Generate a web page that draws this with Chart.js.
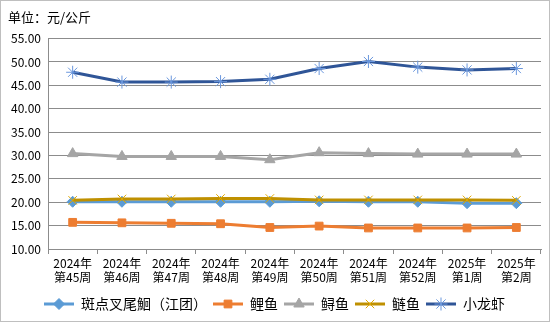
<!DOCTYPE html>
<html>
<head>
<meta charset="utf-8">
<script src="https://cdn.jsdelivr.net/npm/chart.js@4/dist/chart.umd.min.js"></script>
<style>
    html, body { margin: 0; padding: 0; background: #fff; }
    #wrap { width: 550px; height: 322px; box-sizing: border-box; border: 1px solid #bfbfbf; }
    canvas { display: block; }
</style>
</head>
<body>
<div id="wrap"><canvas id="priceChart" width="548" height="320"></canvas></div>
<script>
'use strict';

const weeks = [
    ['2024年', '第45周'], ['2024年', '第46周'], ['2024年', '第47周'], ['2024年', '第48周'],
    ['2024年', '第49周'], ['2024年', '第50周'], ['2024年', '第51周'], ['2024年', '第52周'],
    ['2025年', '第1周'], ['2025年', '第2周']
];

const catfish = [20.1, 20.1, 20.1, 20.1, 20.1, 20.2, 20.1, 20.1, 19.8, 19.8];
const carp = [15.7, 15.6, 15.5, 15.4, 14.6, 14.9, 14.5, 14.5, 14.5, 14.6];
const sturgeon = [30.4, 29.8, 29.8, 29.8, 29.1, 30.6, 30.4, 30.3, 30.3, 30.3];
const silverCarp = [20.4, 20.7, 20.7, 20.8, 20.8, 20.5, 20.5, 20.5, 20.5, 20.4];
const crayfish = [47.8, 45.7, 45.7, 45.8, 46.3, 48.6, 50.1, 48.9, 48.3, 48.6];

const yTicks = { min: 10, max: 55, step: 5 };

const series = [
    { label: '斑点叉尾鮰（江团）', data: catfish, line: '#5b9bd5', marker: '#5b9bd5', style: 'rectRot', radius: 5.5 },
    { label: '鲤鱼', data: carp, line: '#ed7d31', marker: '#ed7d31', style: 'rect', radius: 5.5 },
    { label: '鲟鱼', data: sturgeon, line: '#a5a5a5', marker: '#a5a5a5', style: 'triangle', radius: 6 },
    { label: '鲢鱼', data: silverCarp, line: '#bf9000', marker: '#e0a800', style: 'crossRot', radius: 6 },
    { label: '小龙虾', data: crayfish, line: '#2f5597', marker: '#6a97dd', style: 'star', radius: 6.5 }
];

// small line + marker swatch for each legend entry
function legendSwatch(s) {
    const c = document.createElement('canvas');
    c.width = 30;
    c.height = 14;
    const ctx = c.getContext('2d');
    ctx.strokeStyle = s.line;
    ctx.lineWidth = 3;
    ctx.beginPath();
    ctx.moveTo(0, 7);
    ctx.lineTo(30, 7);
    ctx.stroke();
    ctx.fillStyle = s.marker;
    ctx.strokeStyle = s.marker;
    ctx.lineWidth = 1;
    Chart.helpers.drawPoint(ctx, { pointStyle: s.style, radius: s.radius, borderWidth: 1, rotation: 0 }, 15, 7);
    return c;
}

const datasets = series.map((s, i) => ({
    label: s.label,
    data: s.data,
    borderColor: s.line,
    backgroundColor: s.marker,
    borderWidth: 3,
    pointStyle: s.style,
    pointRadius: s.radius,
    pointHoverRadius: s.radius,
    pointBackgroundColor: s.marker,
    pointBorderColor: s.marker,
    pointBorderWidth: 1,
    tension: 0,
    // later series sit on top
    order: series.length - i,
    swatch: legendSwatch(s)
}));

const font = '"Noto Sans CJK SC", "DejaVu Sans", sans-serif';

new Chart(document.getElementById('priceChart'), {
    type: 'line',
    data: { labels: weeks, datasets: datasets },
    options: {
        responsive: false,
        animation: false,
        layout: { padding: { left: 7, right: 8, top: 0, bottom: 0 } },
        plugins: {
            title: {
                display: true,
                text: '单位：元/公斤',
                align: 'start',
                color: '#000',
                font: { family: font, size: 13, weight: 'normal' },
                padding: { top: 8, bottom: 14 }
            },
            legend: {
                position: 'bottom',
                labels: {
                    usePointStyle: true,
                    pointStyleWidth: 30,
                    boxHeight: 14,
                    padding: 6,
                    color: '#000',
                    font: { family: font, size: 14 },
                    sort: (a, b) => a.datasetIndex - b.datasetIndex,
                    generateLabels: chart => chart.data.datasets.map((ds, i) => ({
                        text: ds.label,
                        pointStyle: ds.swatch,
                        fillStyle: ds.borderColor,
                        strokeStyle: ds.borderColor,
                        lineWidth: 0,
                        fontColor: '#000',
                        hidden: false,
                        datasetIndex: i
                    }))
                }
            },
            tooltip: { enabled: false }
        },
        scales: {
            x: {
                offset: true,
                afterFit: scale => { scale.height = 42; },
                border: { color: '#8c8c8c', width: 1 },
                grid: { offset: true, drawOnChartArea: false, drawTicks: true, tickLength: 5, color: '#8c8c8c' },
                ticks: {
                    color: '#000',
                    padding: 2,
                    maxRotation: 0,
                    autoSkip: false,
                    font: { family: font, size: 12, lineHeight: 1.2 }
                }
            },
            y: {
                min: yTicks.min,
                max: yTicks.max,
                afterFit: scale => { scale.width = 40; },
                border: { color: '#8c8c8c', width: 1 },
                grid: { color: '#8c8c8c', drawTicks: false },
                ticks: {
                    stepSize: yTicks.step,
                    color: '#000',
                    padding: 7,
                    font: { family: font, size: 12 },
                    callback: v => v.toFixed(2)
                }
            }
        }
    }
});
</script>
</body>
</html>
